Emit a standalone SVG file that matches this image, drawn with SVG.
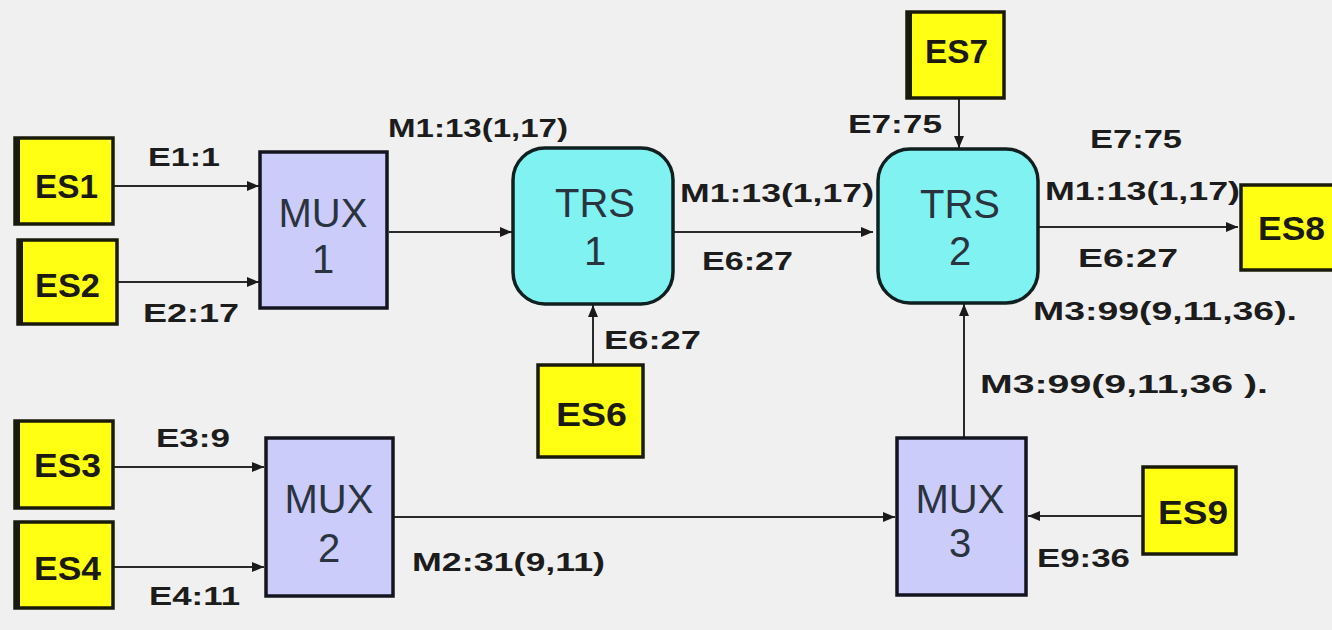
<svg xmlns="http://www.w3.org/2000/svg" width="1332" height="630" viewBox="0 0 1332 630">
<style>
.es{fill:#ffff14;stroke:#1a1a0a;stroke-width:3.5}
.esl{fill:none;stroke:#1a1a0a;stroke-width:6}
.mux{fill:#ccccfa;stroke:#141420;stroke-width:3.5}
.trs{fill:#80f2f2;stroke:#102020;stroke-width:3.5}
.et{font-family:"Liberation Sans",Arial,sans-serif;font-weight:bold;font-size:34px;fill:#1a1a10}
.nt{font-family:"Liberation Sans",Arial,sans-serif;font-size:40px;fill:#2a3440;text-anchor:middle}
.lb{font-family:"Liberation Sans",Arial,sans-serif;font-weight:bold;font-size:26px;fill:#1c1c1c}
.cn{stroke:#2a2a2a;stroke-width:2;fill:none;marker-end:url(#ah)}
</style>
<defs>
<marker id="ah" viewBox="0 0 12 10" refX="12" refY="5" markerWidth="12" markerHeight="10" markerUnits="userSpaceOnUse" orient="auto">
<path d="M0,0 L12,5 L0,10 z" fill="#1a1a1a"/>
</marker>
</defs>
<rect width="1332" height="630" fill="#f0f0f0"/>

<g id="connectors">
<line class="cn" x1="113" y1="186" x2="259" y2="186"/>
<line class="cn" x1="117" y1="282" x2="259" y2="282"/>
<line class="cn" x1="389" y1="232" x2="512" y2="232"/>
<line class="cn" x1="674" y1="232" x2="873" y2="232"/>
<line class="cn" x1="593" y1="365" x2="593" y2="305"/>
<line class="cn" x1="959" y1="98" x2="959" y2="148"/>
<line class="cn" x1="1039" y1="227" x2="1238" y2="227"/>
<line class="cn" x1="964" y1="438" x2="964" y2="304"/>
<line class="cn" x1="113" y1="467" x2="264" y2="467"/>
<line class="cn" x1="113" y1="567" x2="264" y2="567"/>
<line class="cn" x1="394" y1="517" x2="895" y2="517"/>
<line class="cn" x1="1143" y1="516" x2="1028" y2="516"/>
</g>

<g id="labels">
<text class="lb" x="148" y="166" textLength="72" lengthAdjust="spacingAndGlyphs">E1:1</text>
<text class="lb" x="143" y="322" textLength="96" lengthAdjust="spacingAndGlyphs">E2:17</text>
<text class="lb" x="388" y="137" textLength="180" lengthAdjust="spacingAndGlyphs">M1:13(1,17)</text>
<text class="lb" x="680" y="202" textLength="194" lengthAdjust="spacingAndGlyphs">M1:13(1,17)</text>
<text class="lb" x="702" y="270" textLength="91" lengthAdjust="spacingAndGlyphs">E6:27</text>
<text class="lb" x="604" y="349" textLength="97" lengthAdjust="spacingAndGlyphs">E6:27</text>
<text class="lb" x="848" y="133" textLength="94" lengthAdjust="spacingAndGlyphs">E7:75</text>
<text class="lb" x="1090" y="148" textLength="92" lengthAdjust="spacingAndGlyphs">E7:75</text>
<text class="lb" x="1045" y="200" textLength="195" lengthAdjust="spacingAndGlyphs">M1:13(1,17)</text>
<text class="lb" x="1078" y="267" textLength="100" lengthAdjust="spacingAndGlyphs">E6:27</text>
<text class="lb" x="1033" y="320" textLength="264" lengthAdjust="spacingAndGlyphs">M3:99(9,11,36).</text>
<text class="lb" x="980" y="393" textLength="288" lengthAdjust="spacingAndGlyphs">M3:99(9,11,36 ).</text>
<text class="lb" x="156" y="447" textLength="74" lengthAdjust="spacingAndGlyphs">E3:9</text>
<text class="lb" x="149" y="605" textLength="91" lengthAdjust="spacingAndGlyphs">E4:11</text>
<text class="lb" x="412" y="571" textLength="193" lengthAdjust="spacingAndGlyphs">M2:31(9,11)</text>
<text class="lb" x="1037" y="567" textLength="93" lengthAdjust="spacingAndGlyphs">E9:36</text>
</g>

<g id="ES1">
<rect class="es" x="15" y="138" width="98" height="86"/>
<line class="esl" x1="17" y1="138" x2="17" y2="224"/>
<text class="et" x="35" y="198" textLength="63" lengthAdjust="spacingAndGlyphs">ES1</text>
</g>
<g id="ES2">
<rect class="es" x="18" y="240" width="99" height="84"/>
<line class="esl" x1="20" y1="240" x2="20" y2="324"/>
<text class="et" x="35" y="297" textLength="65" lengthAdjust="spacingAndGlyphs">ES2</text>
</g>
<g id="MUX1">
<rect class="mux" x="260" y="152" width="127" height="156"/>
<text class="nt" x="323" y="227">MUX</text>
<text class="nt" x="323" y="273">1</text>
</g>
<g id="TRS1">
<rect class="trs" x="513" y="148" width="160" height="156" rx="32" ry="32"/>
<text class="nt" x="595" y="217">TRS</text>
<text class="nt" x="595" y="265">1</text>
</g>
<g id="ES6">
<rect class="es" x="538" y="365" width="105" height="92"/>
<text class="et" x="556" y="426" textLength="71" lengthAdjust="spacingAndGlyphs">ES6</text>
</g>
<g id="ES7">
<rect class="es" x="907" y="12" width="97" height="86"/>
<line class="esl" x1="909" y1="12" x2="909" y2="98"/>
<text class="et" x="925" y="63" textLength="63" lengthAdjust="spacingAndGlyphs">ES7</text>
</g>
<g id="TRS2">
<rect class="trs" x="878" y="149" width="160" height="154" rx="32" ry="32"/>
<text class="nt" x="960" y="218">TRS</text>
<text class="nt" x="960" y="265">2</text>
</g>
<g id="ES8">
<rect class="es" x="1241" y="185" width="100" height="85"/>
<text class="et" x="1258" y="240" textLength="67" lengthAdjust="spacingAndGlyphs">ES8</text>
</g>
<g id="ES3">
<rect class="es" x="15" y="421" width="98" height="87"/>
<line class="esl" x1="17" y1="421" x2="17" y2="508"/>
<text class="et" x="34" y="477" textLength="67" lengthAdjust="spacingAndGlyphs">ES3</text>
</g>
<g id="ES4">
<rect class="es" x="15" y="522" width="98" height="86"/>
<line class="esl" x1="17" y1="522" x2="17" y2="608"/>
<text class="et" x="34" y="580" textLength="67" lengthAdjust="spacingAndGlyphs">ES4</text>
</g>
<g id="MUX2">
<rect class="mux" x="266" y="438" width="127" height="158"/>
<text class="nt" x="329" y="513">MUX</text>
<text class="nt" x="329" y="562">2</text>
</g>
<g id="MUX3">
<rect class="mux" x="897" y="438" width="129" height="157"/>
<text class="nt" x="960" y="513">MUX</text>
<text class="nt" x="960" y="557">3</text>
</g>
<g id="ES9">
<rect class="es" x="1143" y="467" width="93" height="87"/>
<text class="et" x="1158" y="524" textLength="70" lengthAdjust="spacingAndGlyphs">ES9</text>
</g>
</svg>
